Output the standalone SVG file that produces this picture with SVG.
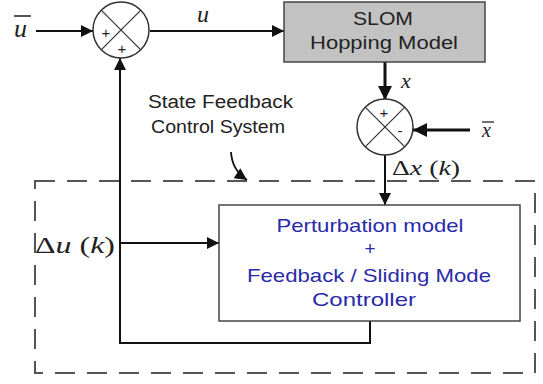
<svg xmlns="http://www.w3.org/2000/svg" width="543" height="384" viewBox="0 0 543 384">
  <defs>
    <marker id="arrowBig" viewBox="0 0 10 10" refX="10" refY="5" markerWidth="18" markerHeight="14" orient="auto" markerUnits="userSpaceOnUse">
      <path d="M0,0 L10,5 L0,10 z" fill="#111"/>
    </marker>
    <marker id="arrowMid" viewBox="0 0 10 10" refX="10" refY="5" markerWidth="15" markerHeight="12" orient="auto" markerUnits="userSpaceOnUse">
      <path d="M0,0 L10,5 L0,10 z" fill="#111"/>
    </marker>
  </defs>
  <style>
    .wire { fill: none; stroke: #111; stroke-width: 2; }
    .thick { fill: none; stroke: #111; stroke-width: 3; }
    .sum { fill: #fff; stroke: #333; stroke-width: 1.5; }
    .cross { stroke: #333; stroke-width: 1.2; }
    .sign { font-family: "Liberation Sans", Arial, sans-serif; font-size: 15px; fill: #222; text-anchor: middle; }
    .math { font-family: "Liberation Serif", "Times New Roman", serif; font-style: italic; fill: #222; }
    .mathup { font-family: "Liberation Serif", "Times New Roman", serif; fill: #222; }
    .label { font-family: "Liberation Sans", Arial, sans-serif; font-size: 18px; fill: #222; }
    .blockTxt { font-family: "Liberation Sans", Arial, sans-serif; font-size: 18px; fill: #222; text-anchor: middle; }
    .blueTxt { font-family: "Liberation Sans", Arial, sans-serif; font-size: 19px; fill: #2a2aa8; text-anchor: middle; }
  </style>

  <!-- dashed boundary of the controller subsystem -->
  <rect x="35" y="181" width="500" height="192" fill="none" stroke="#555" stroke-width="2" stroke-dasharray="20,12"/>

  <!-- connectors -->
  <g id="connectors">
    <line class="wire" x1="36" y1="31" x2="93" y2="31" marker-end="url(#arrowMid)"/>
    <line class="wire" x1="150" y1="31" x2="284" y2="31" marker-end="url(#arrowMid)"/>
    <line class="thick" x1="385" y1="62" x2="385" y2="100" marker-end="url(#arrowBig)"/>
    <line class="thick" x1="470" y1="130" x2="413" y2="130" marker-end="url(#arrowBig)"/>
    <line class="wire" x1="385" y1="155" x2="385" y2="205" marker-end="url(#arrowMid)"/>
    <polyline class="wire" points="370,321 370,343 120,343 120,58" marker-end="url(#arrowMid)"/>
    <line class="wire" x1="120" y1="243" x2="219" y2="243" marker-end="url(#arrowMid)"/>
    <path d="M231,152 Q232,170 247,180" fill="none" stroke="#111" stroke-width="1.8" marker-end="url(#arrowMid)"/>
  </g>

  <!-- input summing junction -->
  <g id="sum-u">
    <circle class="sum" cx="121" cy="30" r="28"/>
    <line class="cross" x1="101.2" y1="10.2" x2="140.8" y2="49.8"/>
    <line class="cross" x1="140.8" y1="10.2" x2="101.2" y2="49.8"/>
    <text class="sign" x="106" y="38">+</text>
    <text class="sign" x="122" y="54">+</text>
  </g>

  <!-- plant block -->
  <g id="slom">
    <rect x="284" y="2" width="201" height="60" fill="#c2c2c2" stroke="#444" stroke-width="1.5"/>
    <text class="blockTxt" x="383" y="25" textLength="60" lengthAdjust="spacingAndGlyphs">SLOM</text>
    <text class="blockTxt" x="384" y="49" textLength="148" lengthAdjust="spacingAndGlyphs">Hopping Model</text>
  </g>

  <!-- state error summing junction -->
  <g id="sum-x">
    <circle class="sum" cx="385" cy="127" r="28"/>
    <line class="cross" x1="365.2" y1="107.2" x2="404.8" y2="146.8"/>
    <line class="cross" x1="404.8" y1="107.2" x2="365.2" y2="146.8"/>
    <text class="sign" x="384" y="118">+</text>
    <text class="sign" x="400" y="136">-</text>
  </g>

  <!-- controller block -->
  <g id="controller">
    <rect x="219" y="205" width="301" height="116" fill="#fff" stroke="#444" stroke-width="1.5"/>
    <text class="blueTxt" x="370" y="232" textLength="187" lengthAdjust="spacingAndGlyphs">Perturbation model</text>
    <text class="blueTxt" x="370" y="255">+</text>
    <text class="blueTxt" x="369" y="282" textLength="244" lengthAdjust="spacingAndGlyphs">Feedback / Sliding Mode</text>
    <text class="blueTxt" x="364" y="306" textLength="104" lengthAdjust="spacingAndGlyphs">Controller</text>
  </g>

  <!-- signal labels -->
  <g id="labels">
    <text class="math" x="14" y="37" font-size="26">u</text>
    <line x1="14" y1="16" x2="31" y2="16" stroke="#222" stroke-width="1.5"/>
    <text class="math" x="197" y="22" font-size="24">u</text>
    <text class="math" x="401" y="88" font-size="22">x</text>
    <text class="math" x="482" y="137" font-size="20">x</text>
    <line x1="482" y1="122" x2="494" y2="122" stroke="#222" stroke-width="1.3"/>
    <text x="392" y="175" font-size="21" textLength="68" lengthAdjust="spacingAndGlyphs"><tspan class="mathup">Δ</tspan><tspan class="math">x</tspan><tspan class="mathup"> (</tspan><tspan class="math">k</tspan><tspan class="mathup">)</tspan></text>
    <text x="35" y="253" font-size="24" textLength="80" lengthAdjust="spacingAndGlyphs"><tspan class="mathup">Δ</tspan><tspan class="math">u</tspan><tspan class="mathup"> (</tspan><tspan class="math">k</tspan><tspan class="mathup">)</tspan></text>
    <text class="label" x="148" y="108" textLength="145" lengthAdjust="spacingAndGlyphs">State Feedback</text>
    <text class="label" x="151" y="133" textLength="134" lengthAdjust="spacingAndGlyphs">Control System</text>
  </g>
</svg>
